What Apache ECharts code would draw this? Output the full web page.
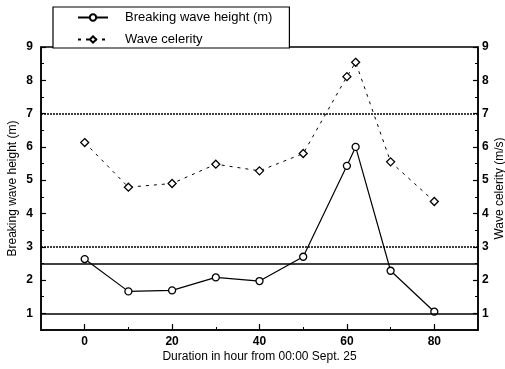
<!DOCTYPE html>
<html>
<head>
<meta charset="utf-8">
<script src="https://cdn.jsdelivr.net/npm/echarts@6/dist/echarts.min.js"></script>
<style>
  html, body { margin: 0; padding: 0; background: #fff; }
  #chart { width: 505px; height: 369px; }
</style>
</head>
<body>
<div id="chart"></div>
<script>
// data
const hours = [0, 10, 20, 30, 40, 50, 60, 62, 70, 80];
const waveHeight = [2.63, 1.66, 1.69, 2.08, 1.97, 2.7, 5.43, 6.0, 2.28, 1.05];
const waveCelerity = [6.13, 4.79, 4.9, 5.48, 5.28, 5.8, 8.11, 8.54, 5.55, 4.36];
const xLabels = [0, 20, 40, 60, 80];
const xMinor = [10, 30, 50, 70];
const yLabels = [1, 2, 3, 4, 5, 6, 7, 8, 9];
const dottedLevels = [7, 3];
const solidLevels = [2.5, 1];

const font = 'Liberation Sans, Arial, sans-serif';
const chart = echarts.init(document.getElementById('chart'));

const pairs = (ys) => hours.map((h, i) => [h, ys[i]]);

const mainY = (pos, name, gap, labelMargin) => ({
  type: 'value',
  position: pos,
  min: 0.5,
  max: 9,
  name: name,
  nameLocation: 'middle',
  nameRotate: 90,
  nameGap: gap,
  nameMoveOverlap: false,
  nameTextStyle: { color: '#000', fontSize: 12, fontFamily: font },
  axisLine: { show: true, onZero: false, lineStyle: { color: '#000', width: 1.5 } },
  axisTick: { show: true, inside: true, length: 5, customValues: yLabels, lineStyle: { color: '#000', width: 1.2 } },
  axisLabel: { customValues: yLabels, color: '#000', fontSize: 12, fontWeight: 'bold', fontFamily: font, margin: labelMargin },
  splitLine: { show: false }
});

const minorY = (pos) => ({
  type: 'value',
  position: pos,
  min: 0.5,
  max: 9,
  interval: 0.5,
  axisLine: { show: false, onZero: false },
  axisTick: { show: true, inside: true, length: 3, lineStyle: { color: '#000', width: 1 } },
  axisLabel: { show: false },
  splitLine: { show: false }
});

const refLines = dottedLevels.map(v => ({ yAxis: v, lineStyle: { type: [2, 1], width: 1.5, color: '#000' } }))
  .concat(solidLevels.map(v => ({ yAxis: v, lineStyle: { type: 'solid', width: 1.5, color: '#000' } })));

chart.setOption({
  animation: false,
  backgroundColor: '#fff',
  grid: {
    left: 41, right: 27, top: 47, bottom: 39,
    containLabel: false,
    outerBoundsMode: 'none',
    show: true, borderColor: '#000', borderWidth: 1.5, backgroundColor: 'transparent'
  },
  legend: {
    orient: 'vertical',
    left: 53,
    top: 7,
    padding: [4, 17, 2, 24],
    itemWidth: 30,
    itemHeight: 8,
    itemGap: 9,
    borderColor: '#000',
    borderWidth: 1.2,
    backgroundColor: '#fff',
    textStyle: { color: '#000', fontSize: 13, fontFamily: font, padding: [0, 0, 0, 12] },
    data: ['Breaking wave height (m)', 'Wave celerity']
  },
  xAxis: [
    {
      type: 'value',
      min: -10,
      max: 90,
      name: 'Duration in hour from 00:00 Sept. 25',
      nameLocation: 'middle',
      nameGap: 21,
      nameMoveOverlap: false,
      nameTextStyle: { color: '#000', fontSize: 12, fontFamily: font },
      axisLine: { show: true, onZero: false, lineStyle: { color: '#000', width: 1.5 } },
      axisTick: { show: true, inside: true, length: 6, customValues: xLabels, lineStyle: { color: '#000', width: 1.2 } },
      axisLabel: { customValues: xLabels, color: '#000', fontSize: 12, fontWeight: 'bold', fontFamily: font, margin: 6 },
      splitLine: { show: false }
    },
    {
      type: 'value',
      position: 'bottom',
      min: -10,
      max: 90,
      axisLine: { show: false, onZero: false },
      axisTick: { show: true, inside: true, length: 3, customValues: xMinor, lineStyle: { color: '#000', width: 1 } },
      axisLabel: { show: false },
      splitLine: { show: false }
    }
  ],
  yAxis: [
    mainY('left', 'Breaking wave height (m)', 22, 8),
    mainY('right', 'Wave celerity (m/s)', 16, 4),
    minorY('left'),
    minorY('right')
  ],
  series: [
    {
      name: 'Breaking wave height (m)',
      type: 'line',
      yAxisIndex: 0,
      data: pairs(waveHeight),
      symbol: 'circle',
      symbolSize: 7,
      lineStyle: { color: '#000', width: 1.2 },
      itemStyle: { color: '#fff', borderColor: '#000', borderWidth: 1.3 },
      markLine: {
        silent: true,
        symbol: 'none',
        label: { show: false },
        data: refLines
      },
      z: 3
    },
    {
      name: 'Wave celerity',
      type: 'line',
      yAxisIndex: 1,
      data: pairs(waveCelerity),
      symbol: 'diamond',
      symbolSize: 8,
      lineStyle: { color: '#000', width: 1, type: [3, 5] },
      itemStyle: { color: '#fff', borderColor: '#000', borderWidth: 1.3 },
      z: 3
    }
  ]
});
</script>
</body>
</html>
